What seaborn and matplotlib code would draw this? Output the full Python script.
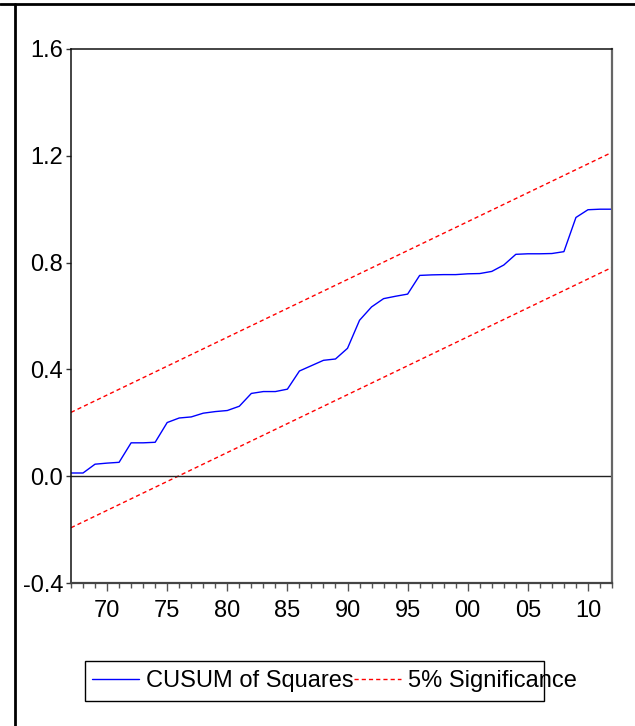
import numpy as np
import matplotlib
matplotlib.use("Agg")
import matplotlib.pyplot as plt
from matplotlib.lines import Line2D
from matplotlib.patches import Rectangle
import pandas as pd
import seaborn as sns

sns.set_style("white")
plt.rcParams['font.family'] = ['Liberation Sans', 'DejaVu Sans']

# 데이터
years = list(range(1967, 2013))
cusum_sq = [0.012, 0.012, 0.045, 0.049, 0.052, 0.125, 0.125, 0.127, 0.201, 0.218,
            0.222, 0.236, 0.242, 0.246, 0.262, 0.310, 0.317, 0.317, 0.326, 0.394,
            0.414, 0.434, 0.439, 0.479, 0.584, 0.634, 0.665, 0.674, 0.682, 0.752,
            0.754, 0.755, 0.755, 0.758, 0.759, 0.767, 0.791, 0.831, 0.833, 0.833,
            0.834, 0.841, 0.969, 0.998, 1.000, 1.000]
sig_years = [1967, 2012]
upper_5 = [0.239, 1.213]
lower_5 = [-0.193, 0.782]

major_years = [1970, 1975, 1980, 1985, 1990, 1995, 2000, 2005, 2010]
major_labels = ["70", "75", "80", "85", "90", "95", "00", "05", "10"]
y_ticks = [-0.4, 0.0, 0.4, 0.8, 1.2, 1.6]
y_labels = ["-0.4", "0.0", "0.4", "0.8", "1.2", "1.6"]

FS = 17

df = pd.DataFrame({"Year": years, "CUSUM of Squares": cusum_sq})
df_sig = pd.DataFrame({"Year": sig_years, "upper": upper_5, "lower": lower_5})

fig = plt.figure(figsize=(6.35, 7.26), dpi=100)
ax = fig.add_axes([71 / 635, 1 - 583 / 726, 541 / 635, 534 / 726])

sns.lineplot(data=df, x="Year", y="CUSUM of Squares", ax=ax, color="#0000FF", lw=1)
sns.lineplot(data=df_sig, x="Year", y="upper", ax=ax, color="#FF0000", lw=1, dashes=False)
sns.lineplot(data=df_sig, x="Year", y="lower", ax=ax, color="#FF0000", lw=1, dashes=False)
for ln in ax.lines[1:]:
    ln.set_dashes((3, 2.2))
ax.axhline(0, color="#222222", lw=1)

ax.set_xlim(1967, 2012)
ax.set_ylim(-0.4, 1.6)
ax.set_xticks(major_years)
ax.set_xticklabels(major_labels)
ax.set_xticks(years, minor=True)
ax.set_yticks(y_ticks)
ax.set_yticklabels(y_labels)
ax.set_xlabel("")
ax.set_ylabel("")

ax.tick_params(axis="x", which="major", direction="out", length=6, width=1,
               color="#555555", labelsize=FS, pad=6, bottom=True, labelcolor="black")
ax.tick_params(axis="x", which="minor", direction="out", length=3.5, width=1,
               color="#555555", bottom=True)
ax.tick_params(axis="y", direction="out", length=3.5, width=1, color="#333333",
               labelsize=FS, pad=2, left=True, labelcolor="black")

for side in ["left", "top"]:
    ax.spines[side].set_color("#111111")
    ax.spines[side].set_linewidth(1.1)
ax.spines["right"].set_color("#666666")
ax.spines["right"].set_linewidth(1.6)
ax.spines["bottom"].set_color("#444444")
ax.spines["bottom"].set_linewidth(1.6)

# 범례
handles = [Line2D([], [], color="#0000FF", lw=1),
           Line2D([], [], color="#FF0000", lw=1, dashes=(3, 2.2))]
fig.legend(handles, ["CUSUM of Squares", "5% Significance"], ncol=2,
           loc="center left", bbox_to_anchor=(92 / 635, 1 - 681 / 726),
           frameon=False, fontsize=FS, handlelength=2.0, handletextpad=0.3,
           columnspacing=0.0, borderpad=0, borderaxespad=0, labelcolor="black")
fig.add_artist(Rectangle((85 / 635, 1 - 701 / 726), 459 / 635, 40 / 726,
                         transform=fig.transFigure, fill=False,
                         edgecolor="black", lw=1))

# 바깥 테두리
fig.add_artist(Line2D([0, 1], [1 - 3.5 / 726, 1 - 3.5 / 726], transform=fig.transFigure,
                      color="black", lw=2))
fig.add_artist(Line2D([14.5 / 635, 14.5 / 635], [0, 1 - 3.5 / 726], transform=fig.transFigure,
                      color="black", lw=2))

fig.savefig("out.png", dpi=100, facecolor="white")
